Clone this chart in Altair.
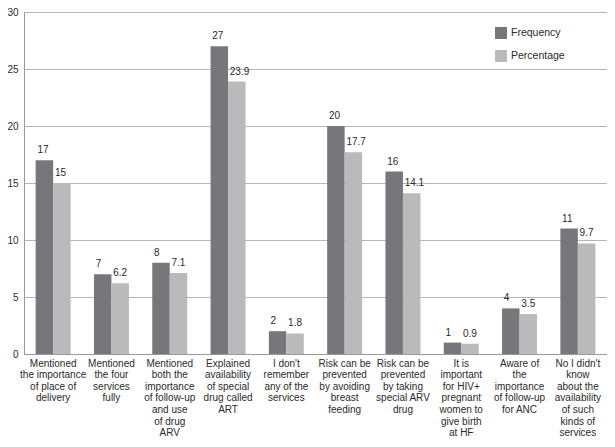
import altair as alt
import pandas as pd

categories = [
    "Mentioned|the importance|of place of|delivery",
    "Mentioned|the four|services|fully",
    "Mentioned|both the|importance|of follow-up|and use|of drug|ARV",
    "Explained|availability|of special|drug called|ART",
    "I don't|remember|any of the|services",
    "Risk can be|prevented|by avoiding|breast|feeding",
    "Risk can be|prevented|by taking|special ARV|drug",
    "It is|important|for HIV+|pregnant|women to|give birth|at HF",
    "Aware of|the|importance|of follow-up|for ANC",
    "No I didn't|know|about the|availability|of such|kinds of|services",
]
frequency = [17, 7, 8, 27, 2, 20, 16, 1, 4, 11]
percentage = [15, 6.2, 7.1, 23.9, 1.8, 17.7, 14.1, 0.9, 3.5, 9.7]
series = ["Frequency", "Percentage"]
colors = ["#77777b", "#bababa"]
y_ticks = [0, 5, 10, 15, 20, 25, 30]

rows = []
for c, f, p in zip(categories, frequency, percentage):
    rows.append({"cat": c, "series": "Frequency", "value": f, "label": f"{f:g}"})
    rows.append({"cat": c, "series": "Percentage", "value": p, "label": f"{p:g}"})
df = pd.DataFrame(rows)

font = "Liberation Sans"
tcol = "#2a2a2a"

x = alt.X("cat:N", sort=categories, title=None,
          scale=alt.Scale(paddingInner=0.4, paddingOuter=0.2),
          axis=alt.Axis(labelExpr="split(datum.label, '|')", labelAngle=0,
                        labelFontSize=10, labelColor=tcol, labelFont=font,
                        labelLineHeight=11.6, ticks=False, domainColor="#999999",
                        labelPadding=4, labelLimit=200, grid=False))
xo = alt.XOffset("series:N", sort=series)
y = alt.Y("value:Q", title=None,
          scale=alt.Scale(domain=[0, 30], nice=False),
          axis=alt.Axis(values=y_ticks, ticks=False, labelFontSize=10, labelColor=tcol,
                        labelFont=font, gridColor="#b5b5b5", domainColor="#999999",
                        labelPadding=6, grid=True))

bars = alt.Chart(df).mark_bar().encode(
    x=x, xOffset=xo, y=y,
    color=alt.Color("series:N", sort=series,
                    scale=alt.Scale(domain=series, range=colors),
                    legend=alt.Legend(title=None, orient="none", legendX=471, legendY=15,
                                      symbolType="square", symbolSize=144,
                                      symbolStrokeWidth=0, labelFontSize=10.5,
                                      labelFont=font, labelColor=tcol,
                                      rowPadding=11, labelOffset=4)),
)

text = alt.Chart(df).mark_text(dy=-10, dx=-7, align="left", baseline="middle",
                               fontSize=10, font=font, color=tcol).encode(
    x=x, xOffset=xo, y=y, text="label:N"
)

chart = (bars + text).properties(
    width=583, height=342,
    autosize=alt.AutoSizeParams(type="none"),
    padding={"left": 16, "top": 4, "right": 0, "bottom": 84},
).configure_view(stroke="#999999")

chart.save("out.html", embed_options={"renderer": "svg", "actions": False})
